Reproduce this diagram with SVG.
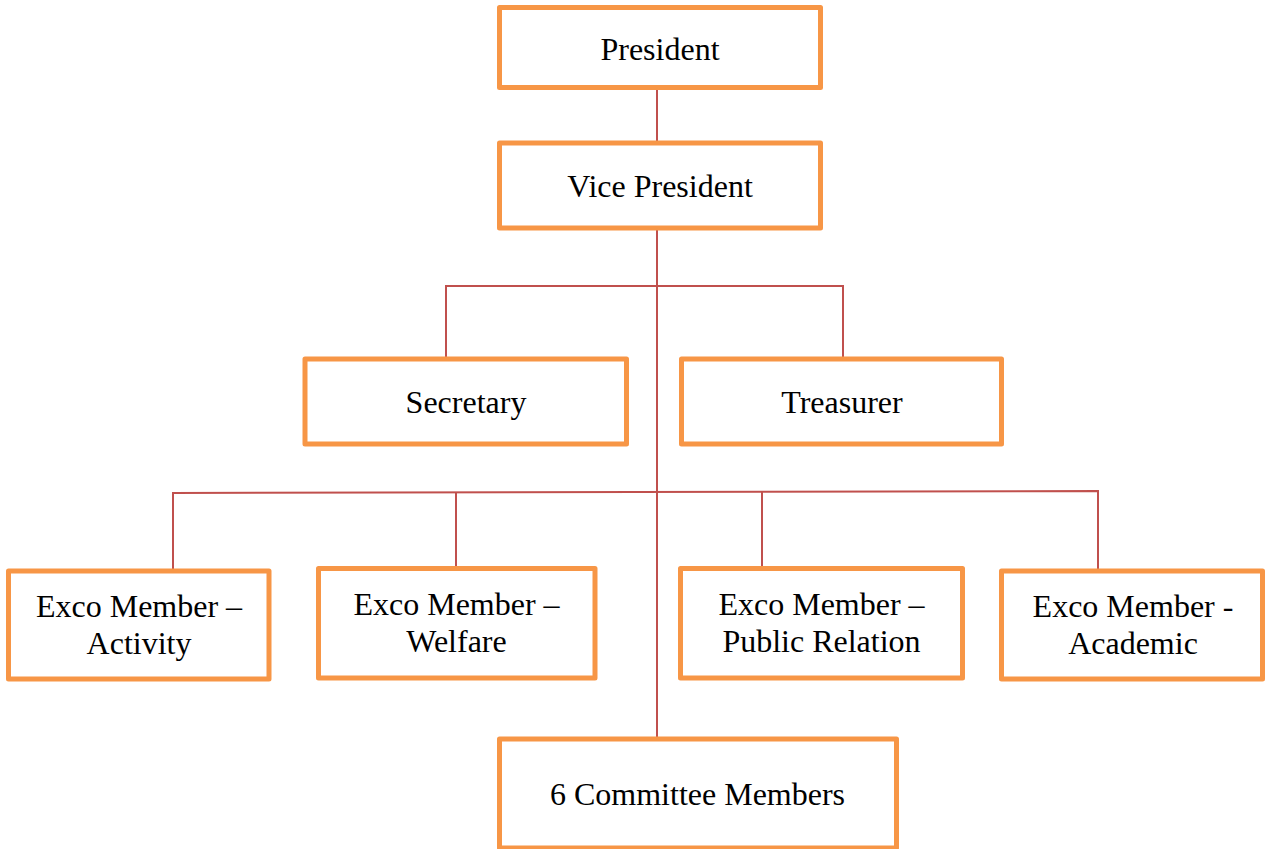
<svg xmlns="http://www.w3.org/2000/svg" width="1265" height="849" viewBox="0 0 1265 849">
<style>
.box{fill:#fff;stroke:#F79646;stroke-width:5;stroke-linejoin:round}
.lbl{font-family:"Liberation Serif","Times New Roman",serif;font-size:32px;fill:#000;text-anchor:middle}
.con{fill:none;stroke:#C0504D;stroke-width:2}
</style>
<rect width="1265" height="849" fill="#fff"/>
<g id="connectors">
<line class="con" x1="657" y1="90" x2="657" y2="143"/>
<line class="con" x1="657" y1="230" x2="657" y2="738"/>
<polyline class="con" points="446,357 446,286 843,286 843,357"/>
<polyline class="con" points="173,570 173,493 1098,491 1098,570"/>
<line class="con" x1="456" y1="492.5" x2="456" y2="566"/>
<line class="con" x1="762" y1="491.5" x2="762" y2="566"/>
</g>
<g id="president"><rect class="box" x="499.5" y="7.5" width="321" height="80"/><text class="lbl" x="660" y="60">President</text></g>
<g id="vice-president"><rect class="box" x="499.5" y="143" width="321" height="85"/><text class="lbl" x="660" y="197">Vice President</text></g>
<g id="secretary"><rect class="box" x="305" y="359" width="321.5" height="85"/><text class="lbl" x="466" y="413">Secretary</text></g>
<g id="treasurer"><rect class="box" x="681.5" y="359" width="320" height="85"/><text class="lbl" x="842" y="413">Treasurer</text></g>
<g id="exco-activity"><rect class="box" x="8.5" y="571" width="260.5" height="108"/><text class="lbl" x="139" y="617">Exco Member –</text><text class="lbl" x="139" y="654">Activity</text></g>
<g id="exco-welfare"><rect class="box" x="318.5" y="568.5" width="276.5" height="109.5"/><text class="lbl" x="456.5" y="615">Exco Member –</text><text class="lbl" x="456.5" y="652">Welfare</text></g>
<g id="exco-public-relation"><rect class="box" x="680.5" y="568.5" width="282" height="109.5"/><text class="lbl" x="821.5" y="615">Exco Member –</text><text class="lbl" x="821.5" y="652">Public Relation</text></g>
<g id="exco-academic"><rect class="box" x="1001.5" y="571" width="261" height="108"/><text class="lbl" x="1133" y="617">Exco Member -</text><text class="lbl" x="1133" y="654">Academic</text></g>
<g id="committee"><rect class="box" x="499.5" y="739" width="397" height="109"/><text class="lbl" x="697.5" y="805">6 Committee Members</text></g>
</svg>
